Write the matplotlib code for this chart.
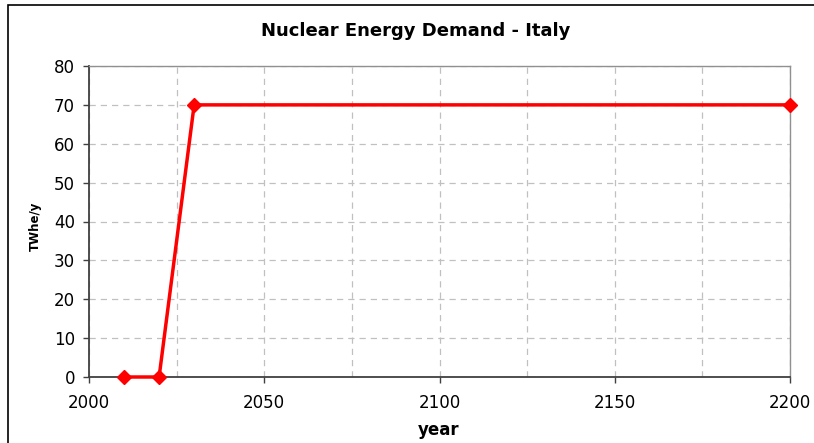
import matplotlib
matplotlib.use("Agg")
import matplotlib.pyplot as plt
from matplotlib.patches import Rectangle
from matplotlib.ticker import MultipleLocator

years = [2010, 2020, 2030, 2200]
demand = [0, 0, 70, 70]
title = "Nuclear Energy Demand - Italy"
xlabel = "year"
ylabel = "TWhe/y"

W, H = 814, 443
plt.rcParams['font.family'] = ['DejaVu Sans']
fig = plt.figure(figsize=(W / 100, H / 100), dpi=100)

# outer chart frame
fig.patches.append(Rectangle((8 / W, -0.1), 1.2, (H - 5) / H + 0.1, transform=fig.transFigure,
                             fill=False, edgecolor='black', linewidth=1.2))

ax = fig.add_axes([89 / W, 1 - 377 / H, (790 - 89) / W, (377 - 66) / H])
ax.plot(years, demand, color='#ff0000', linewidth=2.5, marker='D', markersize=7,
        markerfacecolor='#ff0000', markeredgecolor='#ff0000', clip_on=False, zorder=5)

ax.set_xlim(2000, 2200)
ax.set_ylim(0, 80)
ax.xaxis.set_major_locator(MultipleLocator(50))
ax.xaxis.set_minor_locator(MultipleLocator(25))
ax.yaxis.set_major_locator(MultipleLocator(10))
ax.grid(True, which='both', axis='x', color='#c0c0c0', linestyle=(0, (5, 4)), linewidth=0.9)
ax.grid(True, which='major', axis='y', color='#c0c0c0', linestyle=(0, (5, 4)), linewidth=0.9)
ax.tick_params(axis='x', which='minor', length=0)
ax.tick_params(axis='both', which='major', direction='out', length=4, width=1, color='#404040',
               labelsize=12, pad=8)
ax.tick_params(axis='y', pad=6)
for s in ['left', 'bottom']:
    ax.spines[s].set_color('#404040')
    ax.spines[s].set_linewidth(1.3)
for s in ['top', 'right']:
    ax.spines[s].set_color('#909090')
    ax.spines[s].set_linewidth(1.0)

fig.text(416 / W, 1 - 31 / H, title, ha='center', va='center', fontsize=13, fontweight='bold')
fig.text(439 / W, 1 - 430 / H, xlabel, ha='center', va='center', fontsize=12, fontweight='bold')
fig.text(35 / W, 1 - 226 / H, ylabel, ha='center', va='center', fontsize=8.5, fontweight='bold', rotation=90)

fig.savefig("out.png", dpi=100)
